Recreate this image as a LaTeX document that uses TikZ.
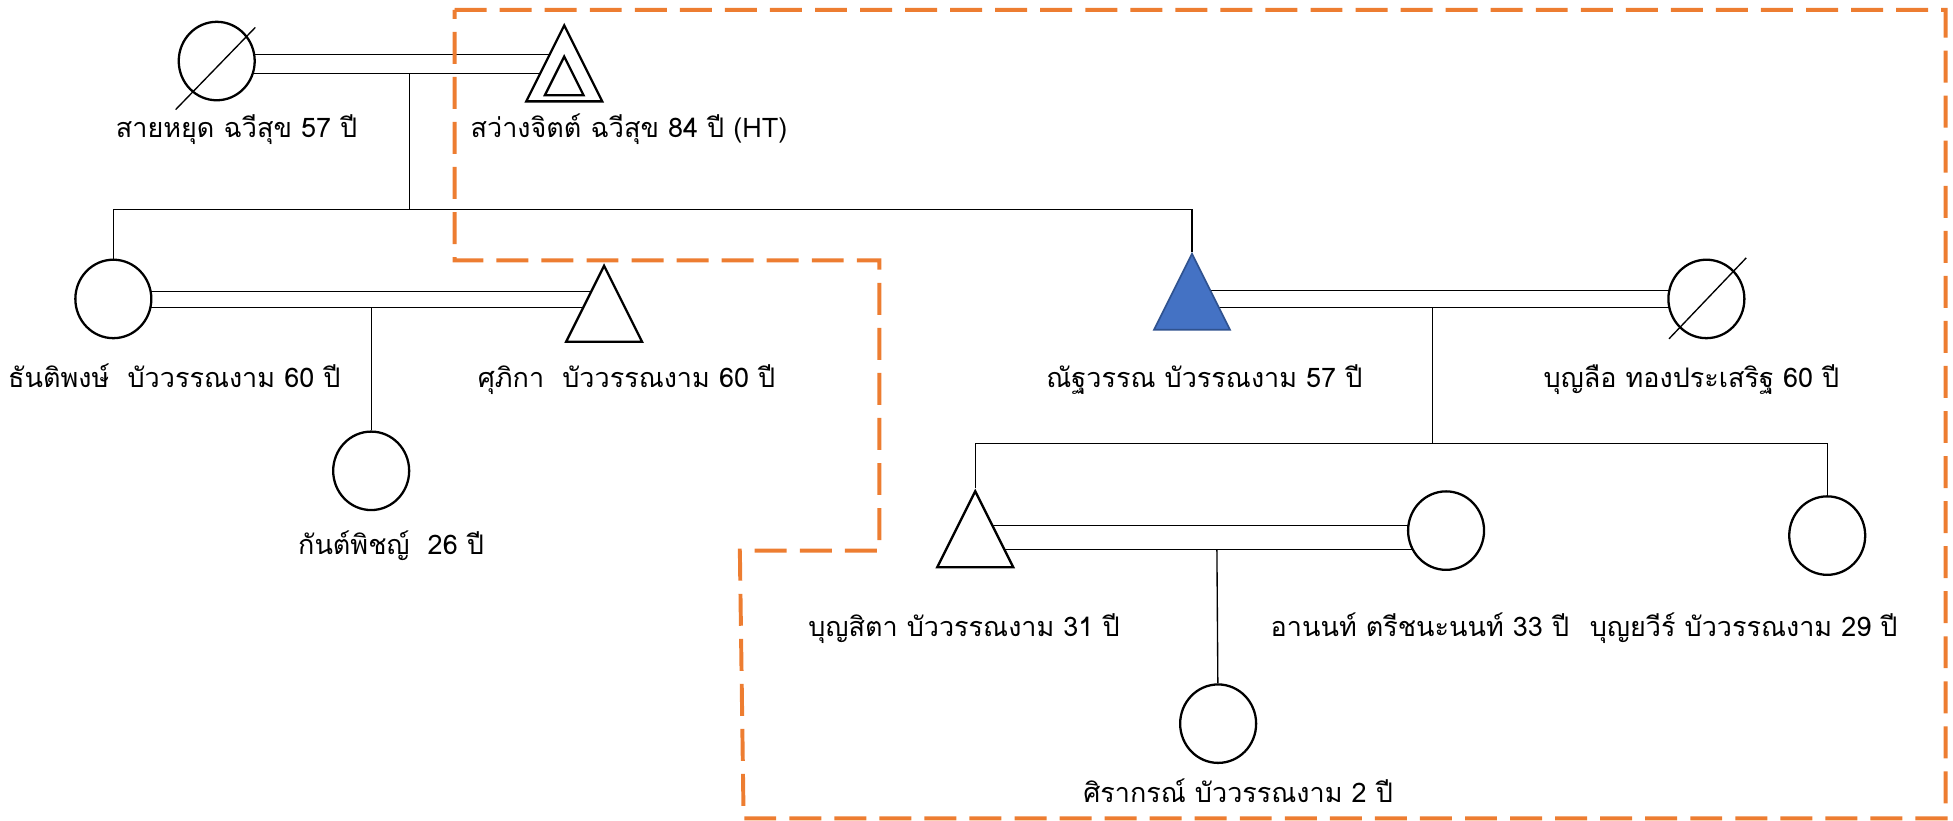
\documentclass[tikz,border=0pt]{standalone}
\usepackage{fontspec}
\newfontfamily\thaifont[Script=Thai]{Loma}
\usetikzlibrary{shapes.geometric,backgrounds}
\definecolor{probandblue}{HTML}{4472C4}
\definecolor{probandedge}{HTML}{2F528F}
\definecolor{hhorange}{HTML}{ED7D31}
\tikzset{
  female/.style={ellipse, draw, line width=1.1pt, fill=white, minimum width=36.6pt, minimum height=37.8pt, inner sep=0pt},
  male/.style={isosceles triangle, isosceles triangle stretches, shape border rotate=90, draw, line width=1.1pt, fill=white, minimum width=36.6pt, minimum height=36.6pt, inner sep=0pt, anchor=apex},
  proband/.style={male, fill=probandblue, draw=probandedge, line width=0.8pt},
  link/.style={line width=0.65pt},
  dead/.style={line width=0.65pt},
  lbl/.style={font=\thaifont\fontsize{13}{15}\selectfont, inner sep=0pt, anchor=base},
  household/.style={draw=hhorange, line width=1.9pt, dash pattern=on 15.4pt off 6.3pt}
}
\begin{document}
\begin{tikzpicture}[x=0.6pt,y=-0.6pt]
\useasboundingbox (0,0) rectangle (1568,659);
%
%''''''''''''''''''''''''''''first generation''''''''''''''''''''''''''''
\node[female] (sai) at (174,49) {};
\node[male] (sawang) at (453,18) {};
\node[male, minimum width=18.6pt, minimum height=18.6pt] (sawangin) at (453,43) {};
\draw[dead] (sai.center) +(-33,39) -- +(31,-27);
\node[lbl] (sailbl) at (190,110) {สายหยุด ฉวีสุข 57 ปี};
\node[lbl] (sawanglbl) at (505,110) {สว่างจิตต์ ฉวีสุข 84 ปี (HT)};
%
%''''''''''''''''''''''''''''second generation'''''''''''''''''''''''''''
\node[female] (thanti) at (91,240) {};
\node[male] (supika) at (485,211) {};
\node[female] (kanphit) at (298,378) {};
\node[proband] (nat) at (957,202) {};
\node[female] (bunlue) at (1370,240) {};
\draw[dead] (bunlue.center) +(-30,32) -- +(32,-33);
\node[lbl] (thantilbl) at (140,311) {ธันติพงษ์~ บัววรรณงาม 60 ปี};
\node[lbl] (supikalbl) at (503,311) {ศุภิกา~ บัววรรณงาม 60 ปี};
\node[lbl] (kanphitlbl) at (314,445) {กันต์พิชญ์~ 26 ปี};
\node[lbl] (natlbl) at (967,311) {ณัฐวรรณ บัวรรณงาม 57 ปี};
\node[lbl] (bunluelbl) at (1358,311) {บุญลือ ทองประเสริฐ 60 ปี};
%
%''''''''''''''''''''''''''''third generation''''''''''''''''''''''''''''
\node[male] (bunsita) at (783,392) {};
\node[female] (arnon) at (1161,426) {};
\node[female] (bunyawee) at (1467,430) {};
\node[female] (sira) at (978,581) {};
\node[lbl] (bunsitalbl) at (774,511) {บุญสิตา บัววรรณงาม 31 ปี};
\node[lbl] (arnonlbl) at (1140,511) {อานนท์ ตรีชนะนนท์ 33 ปี};
\node[lbl] (bunyaweelbl) at (1400,511) {บุญยวีร์ บัววรรณงาม 29 ปี};
\node[lbl] (siralbl) at (994,644) {ศิรากรณ์ บัววรรณงาม 2 ปี};
%
% points where the children hang
\coordinate (u1) at (329,59);
\coordinate (k1) at (329,168);
\coordinate (u2) at (298,247);
\coordinate (u3) at (1150,247);
\coordinate (k3) at (1150,356);
\coordinate (u4) at (977,441);
%
\begin{scope}[on background layer]
% marriage lines
\draw[link] (sai.center |- 0,44) -- (sawang.center |- 0,44);
\draw[link] (sai.center |- 0,59) -- (sawang.center |- 0,59);
\draw[link] (thanti.center |- 0,234) -- (supika.center |- 0,234);
\draw[link] (thanti.center |- 0,247) -- (supika.center |- 0,247);
\draw[link] (nat.center |- 0,233) -- (bunlue.center |- 0,233);
\draw[link] (nat.center |- 0,247) -- (bunlue.center |- 0,247);
\draw[link] (bunsita.center |- 0,422) -- (arnon.center |- 0,422);
\draw[link] (bunsita.center |- 0,441) -- (arnon.center |- 0,441);
%
% children
\draw[link] (u1) -- (k1);
\draw[link] (thanti |- k1) -- (nat |- k1);
\draw[link] (thanti |- k1) -- (thanti);
\draw[link] (nat |- k1) -- (nat.apex);
\draw[link] (u2) -- (kanphit);
\draw[link] (u3) -- (k3);
\draw[link] (bunsita |- k3) -- (bunyawee |- k3);
\draw[link] (bunsita |- k3) -- (bunsita.apex);
\draw[link] (bunyawee |- k3) -- (bunyawee);
\draw[link] (u4) -- (sira);
\end{scope}
%
% household box
\draw[household] (365,8) -- (1562,8) -- (1562,657) -- (597,657) -- (594,442) -- (706,442) -- (706,209) -- (365,209) -- cycle;
%
\end{tikzpicture}
\end{document}
